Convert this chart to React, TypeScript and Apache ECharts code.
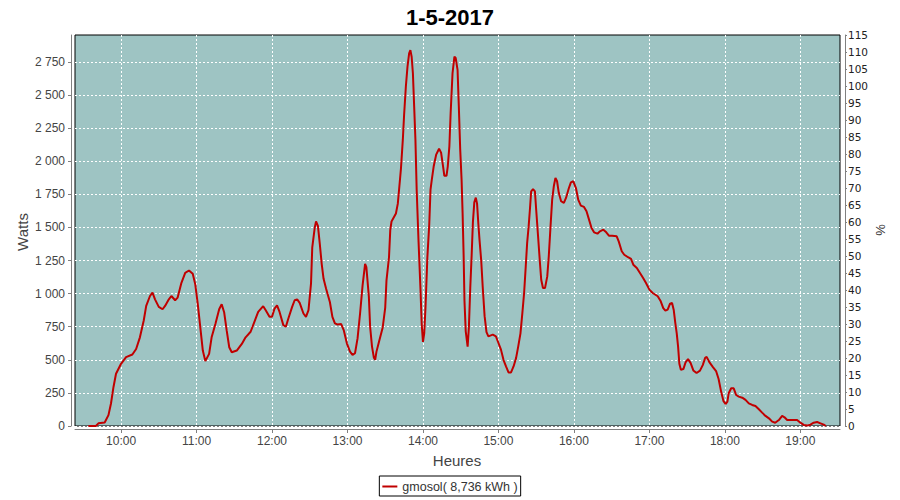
import React, { useEffect, useRef } from "react";
import * as echarts from "echarts";

const TITLE = "1-5-2017";
const SERIES_NAME = "gmosol( 8,736 kWh )";

// time of day (HH:MM[:SS]) and power in watts
const times: string[] = [
  "09:34", "09:40", "09:42", "09:47", "09:50", "09:52", "09:54", "09:56", "10:00", "10:04",
  "10:09", "10:12", "10:15", "10:18", "10:20", "10:23", "10:25", "10:27", "10:30", "10:33",
  "10:35", "10:38", "10:40", "10:43", "10:45", "10:48", "10:51", "10:54", "10:57", "10:59",
  "11:01", "11:03", "11:05", "11:07", "11:10", "11:12", "11:15", "11:18", "11:20", "11:22",
  "11:24", "11:26", "11:28", "11:32", "11:36", "11:39", "11:43", "11:46", "11:49", "11:53",
  "11:55", "11:58", "12:00", "12:02", "12:04", "12:06", "12:09", "12:11", "12:13", "12:16",
  "12:18", "12:20", "12:22", "12:25", "12:27", "12:29", "12:31", "12:32", "12:34", "12:35",
  "12:36:30", "12:38", "12:39:30", "12:41", "12:43", "12:46", "12:48", "12:50", "12:52", "12:55",
  "12:57", "12:59:30", "13:02", "13:04", "13:06", "13:08", "13:10", "13:12", "13:14", "13:15",
  "13:17", "13:18", "13:19:30", "13:21", "13:22", "13:23", "13:25", "13:28", "13:30", "13:31",
  "13:33", "13:34", "13:35", "13:38:30", "13:40", "13:41", "13:42:30", "13:44", "13:45", "13:46:24",
  "13:47:42", "13:49", "13:50", "13:51", "13:52", "13:53", "13:54", "13:55", "13:56:30", "13:58",
  "13:59", "14:00", "14:01", "14:02", "14:03:30", "14:05", "14:06", "14:07", "14:08:30", "14:10:30",
  "14:12:48", "14:14:24", "14:16", "14:17", "14:18:42", "14:19:42", "14:21", "14:22", "14:23:30", "14:25",
  "14:26", "14:27:30", "14:28:30", "14:29:36", "14:30:42", "14:31:30", "14:32:20", "14:33", "14:34", "14:35:30",
  "14:36:30", "14:37:36", "14:38:42", "14:39:42", "14:40:48", "14:42", "14:43", "14:44", "14:45", "14:46:18",
  "14:47:30", "14:49", "14:50:30", "14:52", "14:55:30", "14:58", "15:00", "15:02", "15:04", "15:06",
  "15:08", "15:10", "15:12", "15:14", "15:15:42", "15:17:30", "15:19", "15:20:24", "15:21:42", "15:22:48",
  "15:24", "15:25", "15:26", "15:27:30", "15:29", "15:30", "15:31:30", "15:32:48", "15:34", "15:35:24",
  "15:37", "15:38:48", "15:40", "15:41:24", "15:42:42", "15:44", "15:45:18", "15:46:36", "15:48", "15:49:48",
  "15:52", "15:53:42", "15:56", "15:57:36", "15:59:30", "16:01:36", "16:03:24", "16:05:30", "16:08", "16:10",
  "16:12", "16:14", "16:16", "16:18:42", "16:20:42", "16:23:24", "16:25:42", "16:27:48", "16:30:24", "16:34",
  "16:35:36", "16:38", "16:40", "16:43", "16:45:24", "16:47:12", "16:50", "16:52:30", "16:55", "16:57:18",
  "17:00", "17:02:36", "17:06:36", "17:09", "17:11", "17:12:42", "17:14:30", "17:16:24", "17:18", "17:19:18",
  "17:20:36", "17:21:42", "17:22:48", "17:23:48", "17:25", "17:27", "17:28:42", "17:30:42", "17:32:48", "17:34:54",
  "17:37:30", "17:40:12", "17:42:24", "17:44:18", "17:45:30", "17:47:48", "17:50:30", "17:53", "17:55", "17:57",
  "17:58:48", "18:00:30", "18:02", "18:03", "18:05", "18:07", "18:09", "18:11", "18:13:48", "18:16:24",
  "18:19", "18:21:42", "18:24:18", "18:27", "18:29:36", "18:32:18", "18:35", "18:37:36", "18:40", "18:42:54",
  "18:45:30", "18:47:24", "18:49:30", "18:57:24", "19:00", "19:02:42", "19:05:18", "19:08", "19:10:36", "19:13:18",
  "19:16", "19:18:36", "19:20:12",
];

const watts: number[] = [
  0, 0, 20, 27, 82, 170, 295, 395, 470, 520,
  540, 582, 670, 795, 907, 982, 1007, 957, 900, 882,
  907, 957, 982, 950, 970, 1082, 1157, 1175, 1150, 1070,
  920, 745, 570, 490, 545, 670, 770, 882, 920, 857,
  720, 595, 557, 570, 620, 670, 712, 787, 862, 905,
  875, 825, 825, 887, 912, 862, 762, 750, 812, 900,
  950, 957, 930, 850, 825, 875, 1075, 1350, 1500, 1545,
  1512, 1375, 1225, 1112, 1037, 937, 825, 775, 767, 770,
  725, 625, 562, 537, 550, 662, 850, 1062, 1225, 1200,
  975, 750, 600, 515, 500, 560, 635, 745, 895, 1100,
  1275, 1480, 1545, 1605, 1680, 1785, 1945, 2165, 2350, 2565,
  2715, 2815, 2840, 2790, 2665, 2415, 2165, 1785, 1390, 1040,
  770, 635, 700, 895, 1275, 1525, 1785, 1860, 1960, 2050,
  2095, 2065, 1960, 1890, 1890, 1960, 2115, 2365, 2665, 2790,
  2780, 2690, 2415, 2090, 1860, 1610, 1285, 945, 715, 600,
  745, 1045, 1290, 1540, 1690, 1725, 1680, 1530, 1400, 1250,
  1050, 830, 710, 677, 690, 677, 627, 577, 500, 450,
  405, 405, 450, 513, 600, 700, 853, 1005, 1206, 1382,
  1508, 1634, 1773, 1790, 1773, 1634, 1433, 1257, 1105, 1042,
  1042, 1130, 1282, 1508, 1710, 1811, 1874, 1849, 1760, 1698,
  1685, 1723, 1798, 1841, 1849, 1798, 1710, 1665, 1655, 1622,
  1559, 1496, 1463, 1453, 1471, 1483, 1463, 1438, 1438, 1433,
  1395, 1320, 1294, 1275, 1262, 1219, 1194, 1156, 1118, 1080,
  1030, 1005, 980, 942, 891, 871, 879, 924, 929, 879,
  778, 702, 600, 470, 425, 430, 480, 505, 475, 420,
  400, 418, 460, 515, 522, 480, 445, 415, 355, 260,
  190, 166, 184, 247, 285, 285, 234, 222, 214, 197,
  171, 159, 151, 126, 101, 76, 58, 33, 25, 45,
  76, 66, 45, 45, 25, 8, 3, 10, 25, 30,
  20, 10, 0,
];

const hourTicks: number[] = [10, 11, 12, 13, 14, 15, 16, 17, 18, 19];
const wattTicks: number[] = [0, 250, 500, 750, 1000, 1250, 1500, 1750, 2000, 2250, 2500, 2750];

const X_MIN = 9.39;
const X_MAX = 19.525;
const W_MAX = 2954;
const PCT_MAX = 115;

const FONT = "Liberation Sans";

function toHours(t: string): number {
  const p = t.split(":").map(Number);
  return p[0] + p[1] / 60 + (p[2] || 0) / 3600;
}

function fmtWatts(v: number): string {
  if (v >= 1000) {
    const th = Math.floor(v / 1000);
    const rest = String(Math.round(v % 1000)).padStart(3, "0");
    return th + " " + rest;
  }
  return String(Math.round(v));
}

export default function App() {
  const ref = useRef<HTMLDivElement>(null);

  useEffect(() => {
    if (!ref.current) return;
    const chart = echarts.init(ref.current, null, { renderer: "svg" });
    const data = times.map((t, i) => [toHours(t), watts[i]]);
    const gridLine = { color: "#ffffff", type: [2, 2] as any, width: 1 };
    const axisGray = "#808080";

    chart.setOption({
      animation: false,
      backgroundColor: "#ffffff",
      textStyle: { fontFamily: FONT },
      title: {
        text: TITLE,
        left: "center",
        top: 1,
        textStyle: { fontSize: 22, fontWeight: "bold", color: "#000", fontFamily: FONT },
      },
      grid: {
        left: 75,
        right: 60,
        top: 35,
        bottom: 74,
        show: true,
        backgroundColor: "#9EC4C3",
        borderColor: "#000",
        borderWidth: 1,
      },
      xAxis: {
        type: "value",
        min: X_MIN,
        max: X_MAX,
        minInterval: 1,
        maxInterval: 1,
        splitNumber: 10,
        offset: 3,
        axisLine: { show: true, onZero: false, lineStyle: { color: axisGray, width: 1 } },
        axisTick: { show: true, length: 4, lineStyle: { color: axisGray }, customValues: hourTicks },
        axisLabel: {
          customValues: hourTicks,
          formatter: (v: number) => `${Math.round(v)}:00`,
          color: "#444",
          fontSize: 12,
          fontFamily: FONT,
          margin: 6,
        },
        splitLine: { show: true, lineStyle: gridLine },
      },
      yAxis: [
        {
          type: "value",
          min: 0,
          max: W_MAX,
          interval: 250,
          position: "left",
          offset: 4,
          axisLine: { show: true, lineStyle: { color: axisGray, width: 1 } },
          axisTick: { show: true, length: 3, lineStyle: { color: axisGray }, customValues: wattTicks },
          axisLabel: {
            customValues: wattTicks,
            formatter: fmtWatts,
            color: "#444",
            fontSize: 12,
            fontFamily: FONT,
            margin: 6,
          },
          splitLine: { show: true, lineStyle: gridLine },
        },
        {
          type: "value",
          min: 0,
          max: PCT_MAX,
          interval: 5,
          position: "right",
          offset: 5,
          axisLine: { show: true, lineStyle: { color: axisGray, width: 1 } },
          axisTick: { show: true, length: 2, lineStyle: { color: axisGray } },
          axisLabel: { color: "#222", fontSize: 10.5, fontFamily: "DejaVu Sans", margin: 3 },
          splitLine: { show: false },
        },
      ],
      legend: {
        left: "center",
        top: 476,
        borderColor: "#000",
        borderWidth: 1,
        padding: [4, 3, 3, 3],
        itemWidth: 15,
        itemHeight: 2,
        icon: "rect",
        textStyle: { fontSize: 12.5, color: "#333", fontFamily: FONT },
        data: [{ name: SERIES_NAME, icon: "rect" }],
      },
      graphic: [
        {
          type: "text",
          x: 22,
          y: 232,
          rotation: Math.PI / 2,
          style: { text: "Watts", font: `15px "${FONT}"`, fill: "#444", align: "center", verticalAlign: "middle" },
        },
        {
          type: "text",
          x: 457,
          y: 460,
          style: { text: "Heures", font: `15px "${FONT}"`, fill: "#444", align: "center", verticalAlign: "middle" },
        },
        {
          type: "text",
          x: 880,
          y: 230,
          rotation: Math.PI / 2,
          style: { text: "%", font: `13px "${FONT}"`, fill: "#333", align: "center", verticalAlign: "middle" },
        },
      ],
      series: [
        {
          name: SERIES_NAME,
          type: "line",
          yAxisIndex: 0,
          data,
          showSymbol: false,
          lineStyle: { color: "#C00000", width: 2 },
          itemStyle: { color: "#C00000" },
          emphasis: { disabled: true },
        },
      ],
    });

    return () => chart.dispose();
  }, []);

  return (
    <div
      ref={ref}
      style={{ position: "absolute", left: 0, top: 0, width: 900, height: 500 }}
    />
  );
}
